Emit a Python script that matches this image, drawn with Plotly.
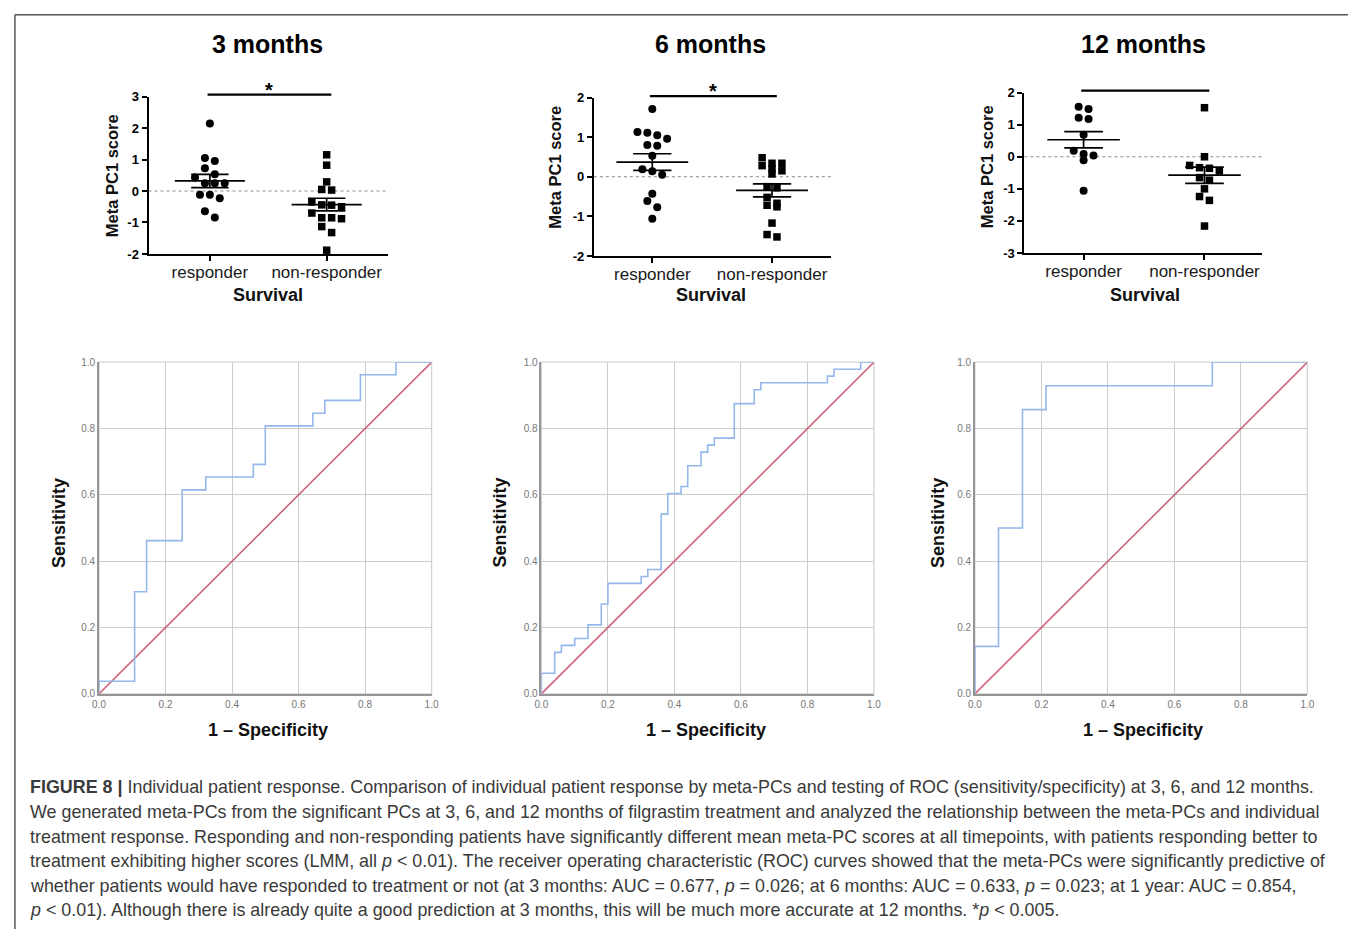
import plotly.graph_objects as go

W, H = 1355, 937

# ---------------- data ----------------
groups = ["responder", "non-responder"]
panel_titles = ["3 months", "6 months", "12 months"]

resp_3m = [2.14, 1.05, 0.95, 0.72, 0.53, 0.43, 0.25, 0.25, 0.25, -0.12, -0.12, -0.23, -0.64, -0.84]
nonresp_3m = [1.15, 0.82, 0.29, 0.05, 0.03, -0.35, -0.44, -0.45, -0.50, -0.70, -0.85, -0.85, -0.88, -1.13, -1.32, -1.88]
mean_3m = [0.32, -0.43]
sem_3m = [0.21, 0.20]

resp_6m = [1.71, 1.13, 1.11, 1.05, 0.96, 0.80, 0.78, 0.53, 0.19, 0.14, 0.05, -0.43, -0.61, -0.77, -1.06]
nonresp_6m = [0.48, 0.34, 0.34, 0.28, 0.20, 0.15, 0.07, -0.25, -0.28, -0.52, -0.67, -0.72, -0.76, -1.17, -1.46, -1.52]
mean_6m = [0.37, -0.345]
sem_6m = [0.21, 0.165]

resp_12m = [1.56, 1.49, 1.22, 1.18, 0.69, 0.19, 0.09, 0.04, -0.11, -1.06]
nonresp_12m = [1.53, 0.0, -0.27, -0.34, -0.36, -0.44, -0.65, -0.73, -1.0, -1.24, -1.36, -2.16]
mean_12m = [0.53, -0.575]
sem_12m = [0.255, 0.255]

sig_stars = ["*", "*", ""]
yticks_scatter = [[-2, -1, 0, 1, 2, 3], [-2, -1, 0, 1, 2], [-3, -2, -1, 0, 1, 2]]

roc3_fpr = [0, 0, 0.107, 0.143, 0.25, 0.321, 0.464, 0.5, 0.643, 0.679, 0.786, 0.893, 1.0]
roc3_tpr = [0, 0.038, 0.308, 0.462, 0.615, 0.654, 0.692, 0.808, 0.846, 0.885, 0.962, 1.0, 1.0]

roc6_fpr = [0, 0, 0.04, 0.06, 0.10, 0.14, 0.18, 0.20, 0.30, 0.32, 0.36, 0.38, 0.42, 0.44,
            0.48, 0.50, 0.52, 0.58, 0.64, 0.66, 0.86, 0.88, 0.96, 1.0]
roc6_tpr = [0, 0.062, 0.125, 0.146, 0.167, 0.208, 0.271, 0.333, 0.354, 0.375, 0.542, 0.604, 0.625, 0.688,
            0.729, 0.750, 0.771, 0.875, 0.917, 0.938, 0.958, 0.979, 1.0, 1.0]

roc12_fpr = [0, 0, 0.071, 0.143, 0.214, 0.714, 1.0]
roc12_tpr = [0, 0.143, 0.5, 0.857, 0.929, 1.0, 1.0]

chance = [0, 1]
roc_ticks = [0.0, 0.2, 0.4, 0.6, 0.8, 1.0]

caption_lines = [
    "<b>FIGURE 8 |</b> Individual patient response. Comparison of individual patient response by meta-PCs and testing of ROC (sensitivity/specificity) at 3, 6, and 12 months.",
    "We generated meta-PCs from the significant PCs at 3, 6, and 12 months of filgrastim treatment and analyzed the relationship between the meta-PCs and individual",
    "treatment response. Responding and non-responding patients have significantly different mean meta-PC scores at all timepoints, with patients responding better to",
    "treatment exhibiting higher scores (LMM, all <i>p</i> &lt; 0.01). The receiver operating characteristic (ROC) curves showed that the meta-PCs were significantly predictive of",
    "whether patients would have responded to treatment or not (at 3 months: AUC = 0.677, <i>p</i> = 0.026; at 6 months: AUC = 0.633, <i>p</i> = 0.023; at 1 year: AUC = 0.854,",
    "<i>p</i> &lt; 0.01). Although there is already quite a good prediction at 3 months, this will be much more accurate at 12 months. *<i>p</i> &lt; 0.005.",
]

# ---------------- layout helpers ----------------
FONT = "Liberation Sans, Arial, Helvetica, sans-serif"


def px_x(p):
    return p / W


def px_y(p):
    return 1 - p / H


scatter_panels = [
    dict(resp=resp_3m, non=nonresp_3m, mean=mean_3m, sem=sem_3m,
         xdom=(143, 385), xr=(-0.525, 1.525), ydom=(91, 251), yr=(-2, 3)),
    dict(resp=resp_6m, non=nonresp_6m, mean=mean_6m, sem=sem_6m,
         xdom=(593, 833), xr=(-0.488, 1.496), ydom=(92, 253), yr=(-2, 2)),
    dict(resp=resp_12m, non=nonresp_12m, mean=mean_12m, sem=sem_12m,
         xdom=(1028, 1268), xr=(-0.49, 1.475), ydom=(87, 250), yr=(-3, 2)),
]
bar_px = [89, 90.5, 85]
star_px = [84, 85, 0]
title_cx = [263, 711, 1148]
survival_cx = [264, 711, 1150]
ytitle_px = [(106, 171), (554, 163), (991, 162)]

roc_panels = [
    dict(fpr=roc3_fpr, tpr=roc3_tpr, xdom=(93, 429), ydom=(361, 698)),
    dict(fpr=roc6_fpr, tpr=roc6_tpr, xdom=(540, 876), ydom=(361, 698)),
    dict(fpr=roc12_fpr, tpr=roc12_tpr, xdom=(978, 1314), ydom=(361, 698)),
]
spec_cx = [264, 706, 1148]
sens_x = [52, 498, 940]


def swarm_offsets(vals, ppy, ppx, row_tol=7.0, spacing=10.0):
    """GraphPad-like column scatter: group close values into rows and spread symmetrically."""
    order = sorted(range(len(vals)), key=lambda i: -vals[i])
    rows = []
    for i in order:
        if rows and abs(vals[rows[-1][0]] - vals[i]) * ppy < row_tol:
            rows[-1].append(i)
        else:
            rows.append([i])
    offs = [0.0] * len(vals)
    for r in rows:
        n = len(r)
        for k, i in enumerate(r):
            offs[i] = (k - (n - 1) / 2) * spacing / ppx
    return offs


def text_ann(text, x, y, size, color="#111", angle=0, xanchor="center", yanchor="middle"):
    return dict(text=text, xref="paper", yref="paper", x=px_x(x), y=px_y(y), showarrow=False,
                xanchor=xanchor, yanchor=yanchor, textangle=angle,
                font=dict(size=size, color=color, family=FONT))


fig = go.Figure()
layout = dict(
    width=W, height=H, margin=dict(l=0, r=0, t=0, b=0), autosize=False,
    paper_bgcolor="white", plot_bgcolor="white", showlegend=False,
    font=dict(family=FONT, color="#111"),
)
shapes = []
annotations = []

# ---------------- scatter panels ----------------
for k, p in enumerate(scatter_panels):
    n = k + 1
    xa = "xaxis" if n == 1 else f"xaxis{n}"
    ya = "yaxis" if n == 1 else f"yaxis{n}"
    xr_ = "x" if n == 1 else f"x{n}"
    yr_ = "y" if n == 1 else f"y{n}"
    ppx = (p["xdom"][1] - p["xdom"][0]) / (p["xr"][1] - p["xr"][0])
    ppy = (p["ydom"][1] - p["ydom"][0]) / (p["yr"][1] - p["yr"][0])

    for gi, (vals, sym) in enumerate([(p["resp"], "circle"), (p["non"], "square")]):
        offs = swarm_offsets(vals, ppy, ppx)
        fig.add_trace(go.Scatter(
            x=[gi + o for o in offs], y=vals, mode="markers", xaxis=xr_, yaxis=yr_,
            marker=dict(symbol=sym, size=8 if sym == "circle" else 7.5, color="black", line=dict(width=0)),
            cliponaxis=False, hoverinfo="skip"))
        m, s = p["mean"][gi], p["sem"][gi]
        fig.add_trace(go.Scatter(
            x=[gi - 0.3, gi + 0.3, None, gi - 0.16, gi + 0.16, None, gi - 0.16, gi + 0.16, None, gi, gi],
            y=[m, m, None, m + s, m + s, None, m - s, m - s, None, m - s, m + s],
            mode="lines", line=dict(color="black", width=1.7), xaxis=xr_, yaxis=yr_, hoverinfo="skip"))

    layout[xa] = dict(
        domain=[px_x(p["xdom"][0]), px_x(p["xdom"][1])], range=list(p["xr"]), anchor=yr_,
        tickvals=[0, 1], ticktext=groups, ticks="outside", ticklen=5, tickwidth=2, tickcolor="black",
        ticklabelstandoff=-3,
        showline=True, linecolor="black", linewidth=2, showgrid=False, zeroline=False,
        tickfont=dict(size=17, color="#1a1a1a", family=FONT), fixedrange=True)
    layout[ya] = dict(
        domain=[px_y(p["ydom"][1]), px_y(p["ydom"][0])], range=list(p["yr"]), anchor=xr_,
        tickvals=yticks_scatter[k], ticktext=[str(v) for v in yticks_scatter[k]],
        ticks="outside", ticklen=5, tickwidth=2, tickcolor="black",
        showline=True, linecolor="black", linewidth=2, showgrid=False, zeroline=False,
        tickfont=dict(size=13, color="black", family=FONT, weight="bold"), fixedrange=True)

    # zero reference line
    shapes.append(dict(type="line", xref=f"{xr_} domain", yref=yr_, x0=0, x1=1, y0=0, y1=0,
                       line=dict(color="#8a8a8a", width=1, dash="dot"), layer="below"))
    # significance bar between the two groups
    shapes.append(dict(type="line", xref=xr_, yref="paper", x0=-0.02, x1=1.04,
                       y0=px_y(bar_px[k]), y1=px_y(bar_px[k]), line=dict(color="black", width=2.2)))
    if sig_stars[k]:
        annotations.append(dict(text=f"<b>{sig_stars[k]}</b>", xref=xr_, yref="paper",
                                x=0.51, y=px_y(star_px[k]), xanchor="center", yanchor="middle",
                                showarrow=False, font=dict(size=20, color="black", family=FONT)))
    annotations.append(text_ann(f"<b>{panel_titles[k]}</b>", title_cx[k], 38, 25, "black"))
    annotations.append(text_ann("<b>Survival</b>", survival_cx[k], 293, 18))
    annotations.append(text_ann("<b>Meta PC1 score</b>", ytitle_px[k][0], ytitle_px[k][1], 16.5, angle=-90))

# ---------------- ROC panels ----------------
for k, p in enumerate(roc_panels):
    n = k + 4
    xa, ya = f"xaxis{n}", f"yaxis{n}"
    xr_, yr_ = f"x{n}", f"y{n}"
    fig.add_trace(go.Scatter(x=chance, y=chance, mode="lines", xaxis=xr_, yaxis=yr_,
                             line=dict(color="#cf6478", width=1.6), hoverinfo="skip"))
    fig.add_trace(go.Scatter(x=p["fpr"], y=p["tpr"], mode="lines", xaxis=xr_, yaxis=yr_,
                             line=dict(color="#94b8ec", width=1.6, shape="hv"), hoverinfo="skip"))
    common = dict(range=[0, 1], tickvals=roc_ticks, ticktext=[f"{v:.1f}" for v in roc_ticks],
                  showgrid=True, gridcolor="#cccccc", gridwidth=1.3, zeroline=False,
                  showline=True, linecolor="#959595", linewidth=1.7, ticks="",
                  tickfont=dict(size=10, color="#777", family=FONT), fixedrange=True)
    layout[xa] = dict(domain=[px_x(p["xdom"][0]), px_x(p["xdom"][1])], anchor=yr_, **common)
    layout[ya] = dict(domain=[px_y(p["ydom"][1]), px_y(p["ydom"][0])], anchor=xr_, **common)
    shapes.append(dict(type="rect", xref=f"{xr_} domain", yref=f"{yr_} domain", x0=0, x1=1, y0=0, y1=1,
                       line=dict(color="#d4d4d4", width=1.3), layer="below"))
    annotations.append(text_ann("<b>1 – Specificity</b>", spec_cx[k], 735, 18))
    annotations.append(text_ann("<b>Sensitivity</b>", sens_x[k], 524, 18, angle=-90))

# ---------------- frame and caption ----------------
shapes.append(dict(type="line", xref="paper", yref="paper", x0=px_x(8), x1=1, y0=px_y(8), y1=px_y(8),
                   line=dict(color="#555", width=1.5)))
shapes.append(dict(type="line", xref="paper", yref="paper", x0=px_x(8), x1=px_x(8), y0=px_y(8), y1=0,
                   line=dict(color="#555", width=1.5)))

for i, line in enumerate(caption_lines):
    annotations.append(text_ann(line, 21, 793 + 25 * i, 17.9, "#3a3a3a", xanchor="left"))

layout["shapes"] = shapes
layout["annotations"] = annotations
fig.update_layout(**layout)

page_fix = ("document.body.style.margin='0';document.body.style.padding='0';"
            "document.body.style.overflow='hidden';document.documentElement.style.overflow='hidden';")
fig.write_html("out.html", config={"displayModeBar": False}, post_script=page_fix)
